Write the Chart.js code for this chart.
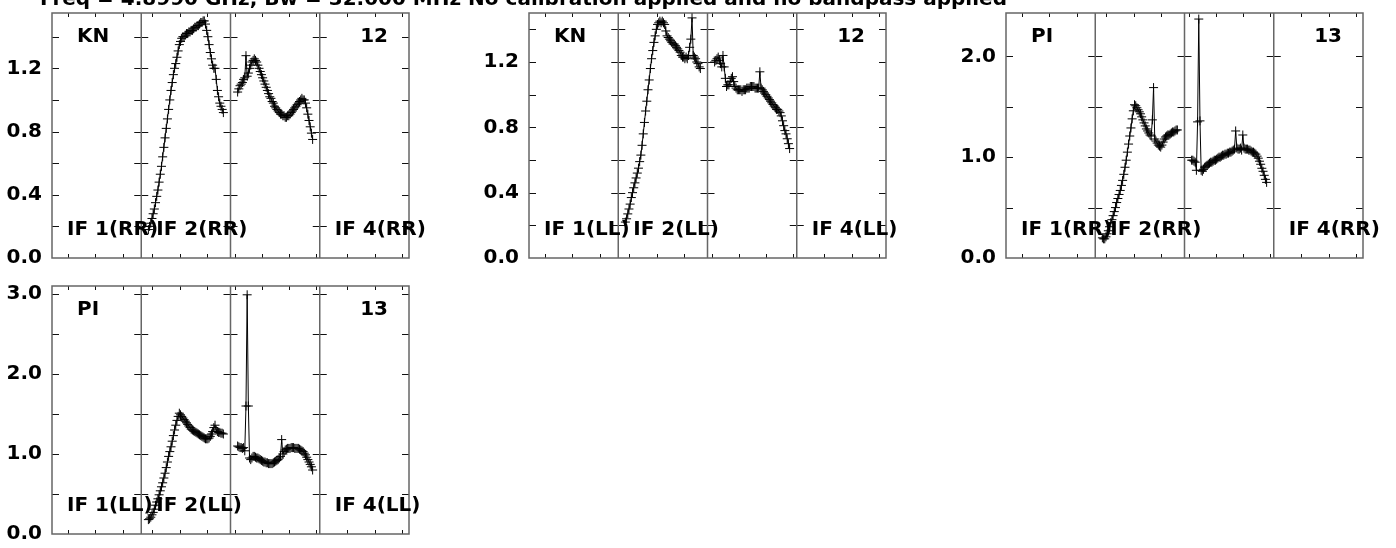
<!DOCTYPE html>
<html>
<head>
<meta charset="utf-8">
<script src="https://cdn.jsdelivr.net/npm/chart.js@4.4.0/dist/chart.umd.min.js"></script>
<style>
  body { margin: 0; background: #fff; width: 1396px; height: 548px; overflow: hidden; position: relative; }
  canvas { position: absolute; }
  #title { position: absolute; left: 40px; top: -12px; font: bold 20px "DejaVu Sans"; line-height: 20px; white-space: pre; z-index: 2; color: #000; }
</style>
</head>
<body>
<div id="title">Freq = 4.8990 GHz, Bw = 32.000 MHz No calibration applied and no bandpass applied</div>
<canvas id="p1" width="440" height="270" style="left:0px;top:0px"></canvas>
<canvas id="p2" width="440" height="270" style="left:477px;top:0px"></canvas>
<canvas id="p3" width="440" height="270" style="left:954px;top:0px"></canvas>
<canvas id="p4" width="440" height="272" style="left:0px;top:273px"></canvas>
<script>
// x layout: each IF box spans IF_WIDTH channel units, data starts CHANNEL_OFFSET in
const IF_WIDTH = 75;
const CHANNEL_OFFSET = 6;

// tick marks along top/bottom of each IF box (channel units)
const xTicksIF1 = [13.4, 36.4, 59.6];
const xTicksIF2 = [9.2, 32.2, 55.1];
const xTicksIF3 = [3.7, 26.6, 49.5, 72.2];
const xTicksIF4 = [23, 46.2, 69.4];

// y ticks
const yLabelsKN = [0, 0.4, 0.8, 1.2];
const yMinorKN = [0.2, 0.6, 1.0, 1.4];
const yLabelsPI = [0, 1, 2];
const yMinorPI = [0.5, 1.5];
const yLabelsPI2 = [0, 1, 2, 3];
const yMinorPI2 = [0.5, 1.5, 2.5];

// amplitudes per channel, IF 2 and IF 3 (IF 1 and IF 4 are empty)
const knRR_if2 = [0.18,0.20,0.22,0.25,0.28,0.31,0.35,0.39,0.43,0.48,
  0.53,0.58,0.64,0.70,0.76,0.82,0.88,0.94,1.00,1.06,
  1.11,1.16,1.20,1.23,1.27,1.31,1.35,1.37,
  1.39,1.40,1.40,1.41,1.42,1.42,1.43,1.43,1.44,1.44,1.45,1.46,1.46,1.47,1.47,1.48,1.49,1.49,1.50,
  1.50,1.48,1.44,1.40,1.35,1.30,1.26,1.22,1.20,1.20,1.13,1.06,1.02,0.98,0.96,0.94,0.92];
const knRR_if3 = [1.05,1.07,1.09,1.10,1.11,1.13,1.14,1.28,1.15,1.17,
  1.20,1.22,1.24,1.25,1.26,1.25,1.24,1.22,1.20,1.18,
  1.16,1.14,1.12,1.10,1.08,1.06,1.04,1.02,1.01,0.99,
  0.98,0.96,0.95,0.94,0.93,0.92,0.91,0.91,0.90,0.90,
  0.89,0.89,0.90,0.90,0.91,0.92,0.93,0.94,0.95,0.96,
  0.97,0.98,0.99,1.00,1.01,1.00,1.00,0.98,0.95,0.91,
  0.87,0.83,0.79,0.75];
const knLL_if2 = [0.22,0.24,0.27,0.30,0.33,0.37,0.40,0.43,0.46,0.49,
  0.52,0.55,0.59,0.63,0.69,0.76,0.83,0.90,0.96,1.03,
  1.09,1.16,1.22,1.27,1.32,1.36,1.40,1.43,
  1.44,1.45,1.44,1.45,1.44,1.43,1.39,1.36,1.35,1.34,
  1.33,1.32,1.31,1.31,1.30,1.29,1.28,1.27,1.26,1.24,
  1.23,1.23,1.22,1.23,1.22,1.24,1.29,1.34,1.47,
  1.24,1.23,1.22,1.20,1.19,1.17,1.16];
const knLL_if3 = [1.20,1.21,1.22,1.23,1.21,1.19,1.17,1.24,1.17,1.10,
  1.05,1.06,1.06,1.08,1.10,1.11,1.08,1.05,1.04,1.03,
  1.03,1.03,1.03,1.02,1.03,1.03,1.03,1.04,1.04,1.04,
  1.05,1.05,1.05,1.05,1.04,1.04,1.04,1.04,1.14,1.04,
  1.03,1.02,1.01,1.00,0.99,0.98,0.97,0.96,0.95,0.94,
  0.93,0.92,0.91,0.91,0.90,0.89,0.87,0.84,0.81,0.78,
  0.76,0.73,0.70,0.67];
const piRR_if2 = [0.20,0.19,0.19,0.21,0.24,0.27,0.31,0.35,0.38,0.42,
  0.46,0.50,0.55,0.59,0.63,0.67,0.72,0.77,0.83,0.90,
  0.97,1.05,1.13,1.21,1.29,1.38,1.46,1.52,
  1.51,1.49,1.47,1.45,1.43,1.40,1.37,1.34,1.31,1.28,
  1.26,1.24,1.22,1.21,1.37,1.69,1.18,1.16,1.14,1.12,
  1.11,1.10,1.12,1.15,1.18,1.20,1.21,1.22,1.22,1.23,
  1.24,1.25,1.25,1.26,1.27,1.27];
const piRR_if3 = [0.97,0.97,0.96,0.95,0.87,1.35,2.37,1.36,0.87,0.86,
  0.88,0.90,0.91,0.92,0.93,0.94,0.95,0.95,0.96,0.97,
  0.97,0.98,0.99,1.00,1.00,1.01,1.02,1.02,1.03,1.03,
  1.04,1.04,1.05,1.05,1.06,1.07,1.08,1.26,1.09,1.08,
  1.08,1.09,1.07,1.22,1.09,1.08,1.08,1.08,1.07,1.07,
  1.06,1.05,1.05,1.04,1.03,1.01,0.99,0.96,0.93,0.89,
  0.86,0.82,0.78,0.75];
const piLL_if2 = [0.18,0.19,0.21,0.24,0.27,0.31,0.36,0.40,0.44,0.49,
  0.54,0.59,0.64,0.70,0.76,0.83,0.90,0.97,1.03,1.09,
  1.16,1.23,1.30,1.36,1.42,1.47,1.51,1.49,1.47,1.45,
  1.43,1.41,1.39,1.37,1.35,1.33,1.31,1.30,1.29,1.28,
  1.27,1.26,1.25,1.24,1.23,1.22,1.21,1.20,1.19,1.19,
  1.19,1.20,1.22,1.25,1.28,1.33,1.36,1.30,1.28,1.27,
  1.27,1.26,1.26,1.25];
const piLL_if3 = [1.10,1.09,1.08,1.08,1.07,1.08,1.04,1.60,2.99,1.60,
  0.95,0.93,0.95,0.97,0.97,0.96,0.95,0.95,0.94,0.93,
  0.92,0.91,0.90,0.90,0.89,0.89,0.88,0.88,0.88,0.88,
  0.89,0.90,0.91,0.92,0.93,0.95,0.97,1.18,1.00,1.03,
  1.05,1.06,1.07,1.07,1.07,1.08,1.08,1.08,1.07,1.07,
  1.07,1.07,1.06,1.05,1.04,1.03,1.01,0.99,0.96,0.93,
  0.90,0.87,0.84,0.80];

const ifTicks = [xTicksIF1, xTicksIF2, xTicksIF3, xTicksIF4];
const LABEL_FONT = 'bold 20px "DejaVu Sans"';

// turn a channel list into {x, y} points inside IF box ifIndex (0-based)
const toPoints = (values, ifIndex) =>
  values.map((v, i) => ({ x: ifIndex * IF_WIDTH + CHANNEL_OFFSET + i, y: v }));

// sub-panel boxes, inward tick marks and the text labels
const framesPlugin = {
  id: 'frames',
  beforeDatasetsDraw(chart) {
    const { ctx, chartArea: a, scales: { x, y } } = chart;
    const opts = chart.options.plugins.frames;
    const yTicks = opts.yLabels.concat(opts.yMinor).filter(v => v > 0);
    ctx.save();
    ctx.strokeStyle = '#111';
    ctx.lineWidth = 1;
    ctx.beginPath();
    for (let k = 0; k < 4; k++) {
      const l = x.getPixelForValue(k * IF_WIDTH);
      const r = x.getPixelForValue((k + 1) * IF_WIDTH);
      yTicks.forEach(v => {
        const py = Math.round(y.getPixelForValue(v)) + 0.5;
        ctx.moveTo(l, py); ctx.lineTo(l + 7, py);
        ctx.moveTo(r - 7, py); ctx.lineTo(r, py);
      });
      ifTicks[k].forEach(v => {
        const px = Math.round(x.getPixelForValue(k * IF_WIDTH + v)) + 0.5;
        ctx.moveTo(px, a.top); ctx.lineTo(px, a.top + 4);
        ctx.moveTo(px, a.bottom); ctx.lineTo(px, a.bottom - 4);
      });
    }
    ctx.stroke();

    ctx.strokeStyle = '#666';
    ctx.lineWidth = 1.5;
    ctx.strokeRect(a.left, a.top, a.right - a.left, a.bottom - a.top);
    ctx.beginPath();
    for (let k = 1; k < 4; k++) {
      const px = x.getPixelForValue(k * IF_WIDTH);
      ctx.moveTo(px, a.top); ctx.lineTo(px, a.bottom);
    }
    ctx.stroke();
    ctx.restore();
  },
  afterDatasetsDraw(chart) {
    const { ctx, chartArea: a, scales: { x } } = chart;
    const opts = chart.options.plugins.frames;
    ctx.save();
    ctx.font = LABEL_FONT;
    ctx.fillStyle = '#000';
    ctx.textBaseline = 'middle';
    ctx.textAlign = 'left';
    ctx.fillText(opts.source, a.left + 25, a.top + 24);
    [0, 1, 3].forEach(k => {
      const l = x.getPixelForValue(k * IF_WIDTH);
      ctx.fillText('IF ' + (k + 1) + '(' + opts.pol + ')', l + 15, a.bottom - 28);
    });
    ctx.textAlign = 'right';
    ctx.fillText(opts.antenna, a.right - 21, a.top + 24);
    ctx.restore();
  }
};

const makePanel = (id, if2, if3, yMax, yLabels, yMinor, source, antenna, pol, padBottom) => {
  const line = {
    borderColor: '#000',
    borderWidth: 1,
    pointStyle: 'cross',
    pointRadius: 4.5,
    pointHoverRadius: 4.5,
    pointBorderColor: '#000',
    pointBorderWidth: 1,
    tension: 0,
    fill: false
  };
  new Chart(document.getElementById(id).getContext('2d'), {
    type: 'line',
    data: {
      datasets: [
        Object.assign({ data: toPoints(if2, 1) }, line),
        Object.assign({ data: toPoints(if3, 2) }, line)
      ]
    },
    options: {
      responsive: false,
      animation: false,
      layout: { padding: { top: 13, right: 31, bottom: padBottom, left: 0 } },
      plugins: {
        legend: { display: false },
        tooltip: { enabled: false },
        frames: { yLabels, yMinor, source, antenna, pol }
      },
      scales: {
        x: { type: 'linear', min: 0, max: 4 * IF_WIDTH, display: false },
        y: {
          min: 0,
          max: yMax,
          afterFit(scale) { scale.width = 52; },
          afterBuildTicks(scale) { scale.ticks = yLabels.map(v => ({ value: v })); },
          grid: { display: false, drawTicks: true, tickLength: 10 },
          border: { display: false },
          ticks: {
            padding: 0,
            color: '#000',
            font: { family: 'DejaVu Sans', weight: 'bold', size: 20, lineHeight: 1 },
            callback: v => Number(v).toFixed(1)
          }
        }
      }
    },
    plugins: [framesPlugin]
  });
};

makePanel('p1', knRR_if2, knRR_if3, 1.55, yLabelsKN, yMinorKN, 'KN', '12', 'RR', 12);
makePanel('p2', knLL_if2, knLL_if3, 1.5, yLabelsKN, yMinorKN, 'KN', '12', 'LL', 12);
makePanel('p3', piRR_if2, piRR_if3, 2.43, yLabelsPI, yMinorPI, 'PI', '13', 'RR', 12);
makePanel('p4', piLL_if2, piLL_if3, 3.1, yLabelsPI2, yMinorPI2, 'PI', '13', 'LL', 11);
</script>
</body>
</html>
